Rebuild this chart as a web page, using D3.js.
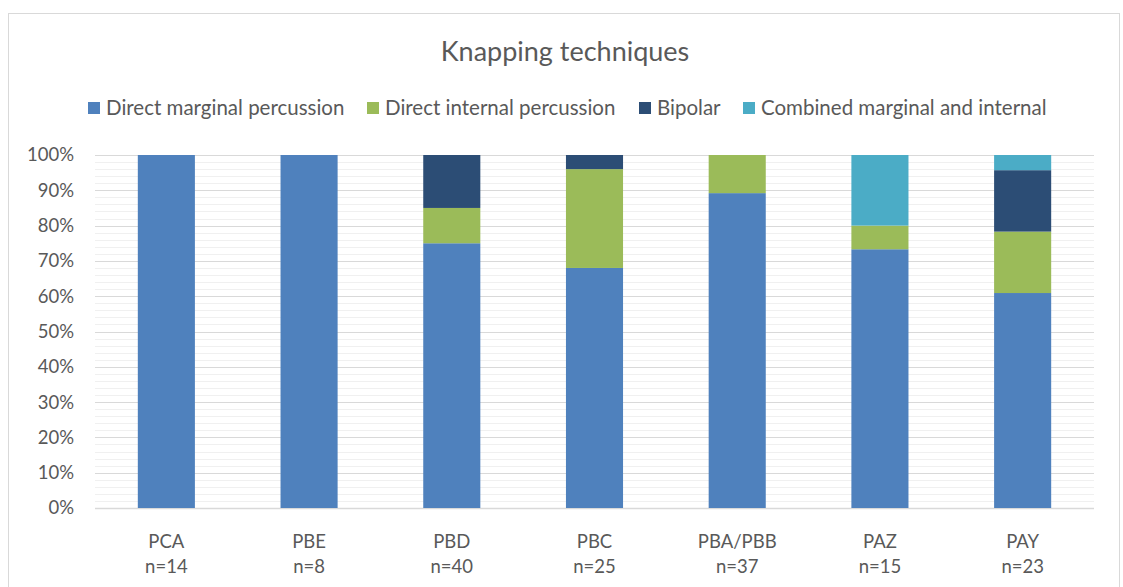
<!DOCTYPE html>
<html>
<head>
<meta charset="utf-8">
<script src="https://cdn.jsdelivr.net/npm/d3@7"></script>
<style>
  body { margin: 0; background: #fff; }
  text { font-family: Lato, "Open Sans", sans-serif; fill: #595959; }
</style>
</head>
<body>
<div id="chart"></div>
<script>
// sites and sample sizes
const sites = ['PCA', 'PBE', 'PBD', 'PBC', 'PBA/PBB', 'PAZ', 'PAY']
const counts = ['n=14', 'n=8', 'n=40', 'n=25', 'n=37', 'n=15', 'n=23']

// share of each technique, in %
const marginal = [100, 100, 75, 68, 89.2, 73.3, 60.9]
const internal = [0, 0, 10, 28, 10.8, 6.7, 17.4]
const bipolar = [0, 0, 15, 4, 0, 0, 17.4]
const combined = [0, 0, 0, 0, 0, 20, 4.3]

const seriesNames = ['Direct marginal percussion', 'Direct internal percussion', 'Bipolar', 'Combined marginal and internal']
const colors = ['#4f81bd', '#9bbb59', '#2c4d75', '#4bacc6']
const yTicks = [0, 10, 20, 30, 40, 50, 60, 70, 80, 90, 100]

const W = 1123, H = 587
const margin = {top: 155, right: 29, bottom: 79, left: 95}

const rows = sites.map((s, i) => ({
  site: s, n: counts[i],
  m: marginal[i], i: internal[i], b: bipolar[i], c: combined[i]
}))
const keys = ['m', 'i', 'b', 'c']
const stacked = d3.stack().keys(keys)(rows)

const svg = d3.select('#chart').append('svg')
  .attr('width', W)
  .attr('height', H)

// outer chart frame
svg.append('rect')
  .attr('x', 8.5).attr('y', 13.5)
  .attr('width', 1111).attr('height', 590)
  .attr('fill', '#fff')
  .attr('stroke', '#d9d9d9')

const x = d3.scaleBand()
  .domain(sites)
  .range([margin.left, W - margin.right])
  .paddingInner(0.6)
  .paddingOuter(0.3)

const y = d3.scaleLinear()
  .domain([0, 100])
  .range([H - margin.bottom, margin.top])

// minor gridlines every 2%
svg.append('g')
  .selectAll('line')
  .data(d3.range(2, 100, 2).filter(v => v % 10 !== 0))
  .enter().append('line')
  .attr('x1', margin.left).attr('x2', W - margin.right)
  .attr('y1', d => Math.round(y(d)) + 0.5)
  .attr('y2', d => Math.round(y(d)) + 0.5)
  .attr('stroke', '#f0f0f0')

// major gridlines
svg.append('g')
  .selectAll('line')
  .data(yTicks)
  .enter().append('line')
  .attr('x1', margin.left).attr('x2', W - margin.right)
  .attr('y1', d => Math.round(y(d)) + 0.5)
  .attr('y2', d => Math.round(y(d)) + 0.5)
  .attr('stroke', '#d9d9d9')
  .attr('stroke-width', d => d === 0 ? 1.5 : 1)

// y axis labels
const yAxis = svg.append('g')
  .attr('transform', 'translate(' + margin.left + ',0)')
  .call(d3.axisLeft(y).tickValues(yTicks).tickFormat(d => d + '%').tickSize(0).tickPadding(21))
yAxis.select('.domain').remove()
yAxis.selectAll('text')
  .style('font-size', '18.5px')
  .attr('fill', '#595959')

// bars
svg.append('g')
  .selectAll('g')
  .data(stacked)
  .enter().append('g')
  .attr('fill', (d, i) => colors[i])
  .selectAll('rect')
  .data(d => d)
  .enter().append('rect')
  .attr('x', d => x(d.data.site))
  .attr('width', x.bandwidth())
  .attr('y', d => y(d[1]))
  .attr('height', d => y(d[0]) - y(d[1]))

// x labels, two lines
const xl = svg.append('g')
  .selectAll('text')
  .data(rows)
  .enter().append('text')
  .attr('text-anchor', 'middle')
  .style('font-size', '18.5px')
xl.append('tspan')
  .attr('x', d => x(d.site) + x.bandwidth() / 2)
  .attr('y', 548)
  .text(d => d.site)
xl.append('tspan')
  .attr('x', d => x(d.site) + x.bandwidth() / 2)
  .attr('y', 573)
  .text(d => d.n)

// title
svg.append('text')
  .attr('x', 565)
  .attr('y', 61)
  .attr('text-anchor', 'middle')
  .style('font-size', '27px')
  .text('Knapping techniques')

// legend
const legendX = [106, 385, 657, 761]
const lg = svg.append('g')
  .selectAll('g')
  .data(seriesNames)
  .enter().append('g')
  .attr('transform', (d, i) => 'translate(' + legendX[i] + ',108)')
lg.append('rect')
  .attr('x', -18).attr('y', -6)
  .attr('width', 12).attr('height', 12)
  .attr('fill', (d, i) => colors[i])
lg.append('text')
  .attr('x', 0)
  .attr('dy', '0.35em')
  .style('font-size', '20.5px')
  .text(d => d)
</script>
</body>
</html>
